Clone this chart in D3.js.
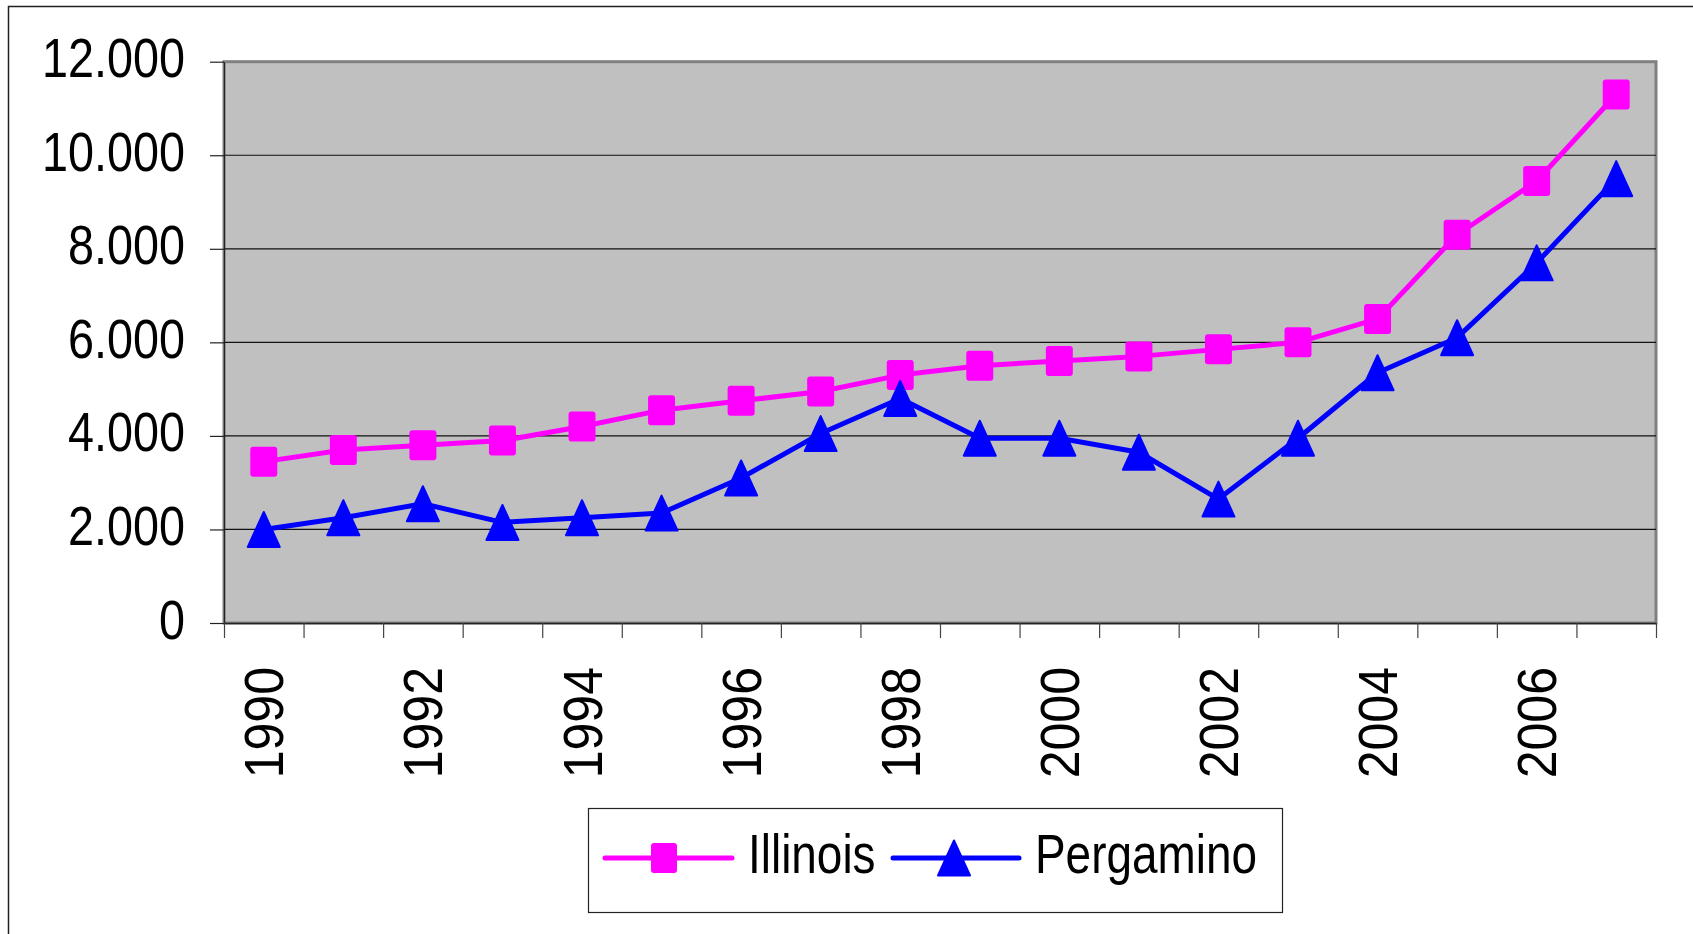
<!DOCTYPE html>
<html>
<head>
<meta charset="utf-8">
<script src="https://cdn.jsdelivr.net/npm/d3@7"></script>
<style>
  html, body { margin: 0; padding: 0; background: #fff; }
  svg { display: block; font-family: "Liberation Sans", Arial, sans-serif; }
</style>
</head>
<body>
<svg id="chart" width="1693" height="934"></svg>
<script>
// ---- data ----
const years = ["1990","1991","1992","1993","1994","1995","1996","1997","1998",
               "1999","2000","2001","2002","2003","2004","2005","2006","2007"];
const illinois  = [3450,3700,3800,3900,4200,4550,4750,4950,5300,5500,5600,5700,5850,6000,6500,8300,9450,11300];
const pergamino = [2000,2250,2550,2150,2250,2350,3100,4050,4800,3950,3950,3650,2650,3950,5350,6100,7700,9500];
const yTicks = [0,2000,4000,6000,8000,10000,12000];
const xLabels = ["1990","1992","1994","1996","1998","2000","2002","2004","2006"];
const seriesNames = ["Illinois","Pergamino"];

// ---- layout ----
const svg = d3.select("#chart");
const L = 224, R = 1656, T = 61.7, B = 623;

const x = d3.scaleBand().domain(years).range([L, R]).padding(0);
const xEdge = d3.scaleLinear().domain([0, years.length]).range([L, R]);
const y = d3.scaleLinear().domain([0, 12000]).range([B, T]);
const loc = d3.formatLocale({decimal: ",", thousands: ".", grouping: [3], currency: ["", ""]});
const fmt = loc.format(",d");

// outer frame (right/bottom run off-canvas)
svg.append("rect").attr("x", 8.5).attr("y", 6.5).attr("width", 1800).attr("height", 1000)
  .attr("fill", "#fff").attr("stroke", "#222").attr("stroke-width", 1.5);

// plot area
svg.append("rect").attr("x", L).attr("y", T).attr("width", R - L).attr("height", B - T)
  .attr("fill", "#c0c0c0").attr("stroke", "#808080").attr("stroke-width", 3);

// gridlines
svg.append("g").selectAll("line").data(yTicks.filter(d => d > 0 && d < 12000)).join("line")
  .attr("x1", L).attr("x2", R).attr("y1", d => y(d)).attr("y2", d => y(d))
  .attr("stroke", "#111").attr("stroke-width", 1.2);

// y axis
const yAxis = svg.append("g").attr("transform", `translate(${L},0)`)
  .call(d3.axisLeft(y).tickValues(yTicks).tickSize(14).tickSizeOuter(0).tickFormat(fmt));
yAxis.select(".domain").attr("stroke", "#222").attr("stroke-width", 1.2);
yAxis.selectAll(".tick line").attr("stroke", "#222").attr("stroke-width", 1.2);
yAxis.selectAll(".tick text")
  .attr("x", null).attr("dy", null)
  .attr("transform", "translate(-39,15) scale(0.85,1)")
  .attr("text-anchor", "end")
  .style("font-size", "55px").attr("fill", "#000")
  .style("font-family", "'Liberation Sans', Arial, sans-serif");

// x axis: ticks at category boundaries
const xTickAxis = svg.append("g").attr("transform", `translate(0,${B})`)
  .call(d3.axisBottom(xEdge).tickValues(d3.range(years.length + 1)).tickSize(15).tickSizeOuter(0).tickFormat(""));
xTickAxis.select(".domain").attr("stroke", "#222").attr("stroke-width", 1.5);
xTickAxis.selectAll(".tick line").attr("stroke", "#444").attr("stroke-width", 1.2);

// x labels (rotated)
const xLabAxis = svg.append("g").attr("transform", `translate(0,${B})`)
  .call(d3.axisBottom(x).tickValues(xLabels).tickSize(0).tickSizeOuter(0));
xLabAxis.select(".domain").remove();
xLabAxis.selectAll(".tick text")
  .attr("x", null).attr("y", null).attr("dy", null)
  .attr("transform", "translate(19.5,44) rotate(-90) scale(0.91,1)")
  .attr("text-anchor", "end")
  .style("font-size", "55px").attr("fill", "#000")
  .style("font-family", "'Liberation Sans', Arial, sans-serif");

// series
const cx = d => x(d) + x.bandwidth() / 2;
const lineGen = arr => d3.line().x((d, i) => cx(years[i])).y(d => y(d))(arr);

const sqW = 27, sqH = 30;
const triW = 32, triH = 35;
const triPath = `M0,${-triH/2} L${triW/2},${triH/2} L${-triW/2},${triH/2} Z`;

svg.append("path").attr("d", lineGen(illinois)).attr("fill", "none")
  .attr("stroke", "#ff00ff").attr("stroke-width", 5).attr("stroke-linejoin", "round");
svg.append("path").attr("d", lineGen(pergamino)).attr("fill", "none")
  .attr("stroke", "#0000ff").attr("stroke-width", 5).attr("stroke-linejoin", "round");

svg.append("g").selectAll("rect").data(illinois).join("rect")
  .attr("x", (d, i) => cx(years[i]) - sqW / 2).attr("y", d => y(d) - sqH / 2)
  .attr("width", sqW).attr("height", sqH).attr("rx", 3)
  .attr("fill", "#ff00ff");

svg.append("g").selectAll("path").data(pergamino).join("path")
  .attr("d", triPath)
  .attr("transform", (d, i) => `translate(${cx(years[i])},${y(d)})`)
  .attr("fill", "#0000ff").attr("stroke", "#0000ff").attr("stroke-width", 2).attr("stroke-linejoin", "round");

// legend
const lg = svg.append("g");
lg.append("rect").attr("x", 588.5).attr("y", 808.5).attr("width", 694).attr("height", 104)
  .attr("fill", "#fff").attr("stroke", "#222").attr("stroke-width", 1.2);

const legendItems = [
  {name: seriesNames[0], color: "#ff00ff", x1: 605, x2: 732, mx: 664, tx: 748, shape: "sq"},
  {name: seriesNames[1], color: "#0000ff", x1: 893, x2: 1019, mx: 954, tx: 1035, shape: "tri"}
];
const ly = 858;
legendItems.forEach(it => {
  lg.append("line").attr("x1", it.x1).attr("x2", it.x2).attr("y1", ly).attr("y2", ly)
    .attr("stroke", it.color).attr("stroke-width", 5).attr("stroke-linecap", "round");
  if (it.shape === "sq") {
    lg.append("rect").attr("x", it.mx - 13).attr("y", ly - 15).attr("width", 26).attr("height", 30)
      .attr("rx", 3).attr("fill", it.color);
  } else {
    lg.append("path").attr("d", triPath).attr("transform", `translate(${it.mx},${ly})`)
      .attr("fill", it.color).attr("stroke", it.color).attr("stroke-width", 2).attr("stroke-linejoin", "round");
  }
  lg.append("text").attr("transform", `translate(${it.tx},873) scale(0.82,1)`)
    .style("font-size", "56px").attr("fill", "#000").text(it.name);
});
</script>
</body>
</html>
